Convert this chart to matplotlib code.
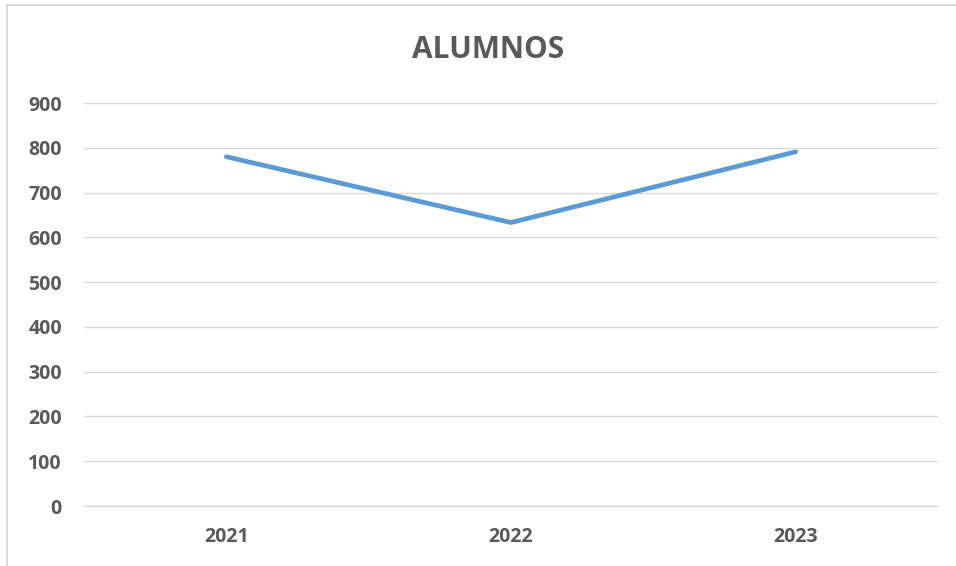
import matplotlib
matplotlib.use("Agg")
import matplotlib.pyplot as plt
from matplotlib.lines import Line2D

years = ["2021", "2022", "2023"]
alumnos = [780, 633, 791]
y_ticks = [0, 100, 200, 300, 400, 500, 600, 700, 800, 900]
title = "ALUMNOS"

plt.rcParams['font.family'] = ['Open Sans', 'DejaVu Sans']
W, H = 956, 566
fig = plt.figure(figsize=(W/100, H/100), dpi=100)
ax = fig.add_axes([84/W, 1-506/H, (938-84)/W, (506-103)/H])

x = list(range(len(years)))
ax.plot(x, alumnos, color="#5B9BD5", lw=3.4, solid_capstyle="round", solid_joinstyle="round", zorder=3)
ax.set_xlim(-0.5, len(years)-0.5)
ax.set_ylim(0, 900)
ax.set_yticks(y_ticks)
ax.set_xticks(x)
ax.set_xticklabels(years)
ax.grid(axis="y", color="#D9D9D9", lw=1.0)
ax.set_axisbelow(True)
for s in ["top", "right", "left"]:
    ax.spines[s].set_visible(False)
ax.spines["bottom"].set_color("#D9D9D9")
ax.spines["bottom"].set_linewidth(1.0)
ax.tick_params(axis="both", length=0, labelcolor="#595959", labelsize=14)
ax.tick_params(axis="y", pad=16)
ax.tick_params(axis="x", pad=15)
for lab in ax.get_xticklabels() + ax.get_yticklabels():
    lab.set_fontweight("bold")

fig.text(488/W, 1-57.5/H, title, ha="center", va="baseline", fontsize=21.5, fontweight="bold", color="#595959")

fig.add_artist(Line2D([7/W, 7/W], [0, 1-5/H], color="#D9D9D9", lw=1.5, transform=fig.transFigure))
fig.add_artist(Line2D([7/W, 1], [1-5/H, 1-5/H], color="#D9D9D9", lw=1.5, transform=fig.transFigure))

fig.savefig("out.png", dpi=100)
